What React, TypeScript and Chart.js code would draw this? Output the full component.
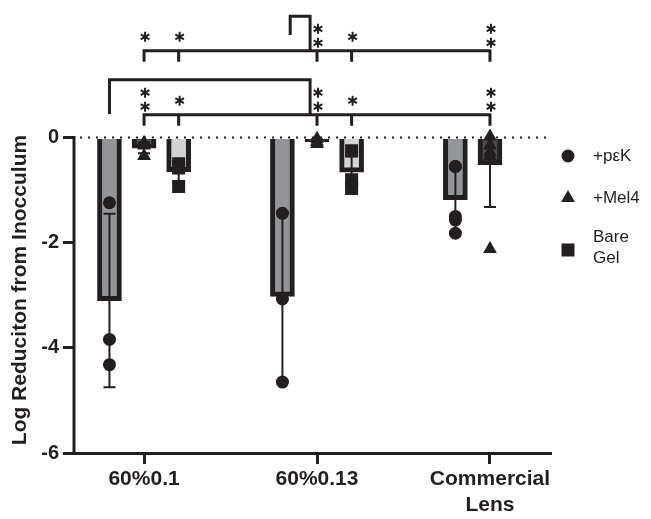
import React, { useEffect, useRef } from 'react';
import { Chart, registerables } from 'chart.js';

Chart.register(...registerables);

// ---- data ----
const categories: (string | string[])[] = ['60%0.1', '60%0.13', ['Commercial', 'Lens']];
const seriesNames = ['+pεK', '+Mel4', 'Bare Gel'];
const pekMeans = [-3.1, -3.02, -1.18];
const mel4Means = [-0.2, -0.08, -0.52];
const bareMeans: (number | null)[] = [-0.65, -0.66, null];
const pekSD = [1.65, 1.6, 0.6];
const mel4SD = [0.1, 0.05, 0.8];
const bareSD: (number | null)[] = [0.2, 0.3, null];
const pekPoints = [
  [-1.24, -3.84, -4.32],
  [-1.44, -3.07, -4.65],
  [-0.55, -0.55, -1.5, -1.57, -1.82],
];
const mel4Points = [
  [-0.1, -0.15, -0.35],
  [-0.02, -0.08, -0.12],
  [0.02, -0.15, -0.28, -0.35, -2.12],
];
const barePoints = [
  [-0.5, -0.58, -0.93],
  [-0.25, -0.8, -0.97],
  [],
];
const yTicks = [0, -2, -4, -6];
const yTitle = 'Log Reduciton from Inocculum';
// significance rows: stars count at (group, series)
const sigTargets = [
  [0, 1], [0, 2], [1, 1], [1, 2], [2, 1],
];
const sigLowerStars = [2, 1, 2, 1, 2];
const sigUpperStars = [1, 1, 2, 1, 2];

// ---- styling / layout ----
const INK = '#231f20';
const FONT = "'Liberation Sans', Arial, Helvetica, sans-serif";
const seriesOffset = [-0.2, 0, 0.2];
const barFill = ['#939598', '#4d4d4f', '#d1d3d4'];
const pointStyles = ['circle', 'triangle', 'rect'];
const pointRadii = [6.5, 8, 9.2];

const means = [pekMeans, mel4Means, bareMeans];
const sds = [pekSD, mel4SD, bareSD];
const pts = [pekPoints, mel4Points, barePoints];

function drawMarker(ctx: CanvasRenderingContext2D, style: string, x: number, y: number, r: number) {
  ctx.beginPath();
  if (style === 'circle') {
    ctx.arc(x, y, r, 0, Math.PI * 2);
  } else if (style === 'triangle') {
    let rad = 0;
    ctx.moveTo(x + Math.sin(rad) * r, y - Math.cos(rad) * r);
    rad += (2 * Math.PI) / 3;
    ctx.lineTo(x + Math.sin(rad) * r, y - Math.cos(rad) * r);
    rad += (2 * Math.PI) / 3;
    ctx.lineTo(x + Math.sin(rad) * r, y - Math.cos(rad) * r);
    ctx.closePath();
  } else {
    const s = Math.SQRT1_2 * r;
    ctx.rect(x - s, y - s, 2 * s, 2 * s);
  }
  ctx.fill();
}

function drawStar(ctx: CanvasRenderingContext2D, x: number, y: number) {
  const r = 5;
  ctx.beginPath();
  for (const a of [90, 30, 150]) {
    const t = (a * Math.PI) / 180;
    ctx.moveTo(x - Math.cos(t) * r, y - Math.sin(t) * r);
    ctx.lineTo(x + Math.cos(t) * r, y + Math.sin(t) * r);
  }
  ctx.stroke();
}

const overlayPlugin = {
  id: 'overlay',
  beforeDatasetsDraw(chart: any) {
    const { ctx, chartArea, scales } = chart;
    const y0 = scales.y.getPixelForValue(0);
    ctx.save();
    // dotted zero line
    ctx.strokeStyle = INK;
    ctx.lineWidth = 2;
    ctx.setLineDash([2, 6]);
    ctx.beginPath();
    ctx.moveTo(chartArea.left + 6, y0);
    ctx.lineTo(chartArea.right, y0);
    ctx.stroke();
    ctx.setLineDash([]);
    // y axis line from 0 to -6
    ctx.lineWidth = 3;
    ctx.beginPath();
    ctx.moveTo(chartArea.left, y0 - 1.5);
    ctx.lineTo(chartArea.left, scales.y.getPixelForValue(-6));
    ctx.stroke();
    ctx.restore();
  },
  afterDatasetDraw(chart: any, args: any) {
    const s = args.index;
    if (s > 2) return;
    const { ctx, scales } = chart;
    ctx.save();
    ctx.strokeStyle = INK;
    ctx.lineWidth = 2;
    means[s].forEach((m, i) => {
      const sd = sds[s][i];
      if (m == null || sd == null) return;
      const x = scales.x.getPixelForValue(i + seriesOffset[s]);
      const lo = scales.y.getPixelForValue(m - sd);
      const hiVal = Math.min(m + sd, 0);
      const hi = scales.y.getPixelForValue(hiVal);
      ctx.beginPath();
      ctx.moveTo(x, hi);
      ctx.lineTo(x, lo);
      ctx.moveTo(x - 6, lo);
      ctx.lineTo(x + 6, lo);
      if (m + sd < 0) {
        ctx.moveTo(x - 6, hi);
        ctx.lineTo(x + 6, hi);
      }
      ctx.stroke();
    });
    ctx.restore();
  },
  afterDraw(chart: any) {
    const { ctx, scales } = chart;
    const X = (v: number) => scales.x.getPixelForValue(v);
    const Y = (v: number) => scales.y.getPixelForValue(v);
    ctx.save();
    ctx.strokeStyle = INK;
    ctx.fillStyle = INK;
    ctx.lineWidth = 3;
    ctx.lineCap = 'butt';

    const rows = [
      { y: 0.435, stars: sigLowerStars },
      { y: 1.65, stars: sigUpperStars },
    ];
    const targetsX = sigTargets.map(([g, s]) => X(g + seriesOffset[s]));
    rows.forEach((row) => {
      const yl = Y(row.y);
      ctx.lineWidth = 3;
      ctx.beginPath();
      ctx.moveTo(targetsX[0] - 1.5, yl);
      ctx.lineTo(targetsX[targetsX.length - 1] + 1.5, yl);
      targetsX.forEach((x) => {
        ctx.moveTo(x, yl);
        ctx.lineTo(x, yl + 11);
      });
      ctx.stroke();
      ctx.lineWidth = 2;
      targetsX.forEach((x, k) => {
        if (row.stars[k] === 1) {
          drawStar(ctx, x + 1, yl - 14);
        } else {
          drawStar(ctx, x + 1, yl - 22);
          drawStar(ctx, x + 1, yl - 8);
        }
      });
    });

    // big bracket
    ctx.lineWidth = 3;
    ctx.beginPath();
    ctx.moveTo(X(-0.2), Y(0.45));
    ctx.lineTo(X(-0.2), Y(1.1));
    ctx.lineTo(X(0.96), Y(1.1));
    ctx.lineTo(X(0.96), Y(0.435));
    ctx.stroke();
    // small top bracket
    ctx.beginPath();
    ctx.moveTo(X(0.845), Y(1.95));
    ctx.lineTo(X(0.845), Y(2.31));
    ctx.lineTo(X(0.96), Y(2.31));
    ctx.lineTo(X(0.96), Y(1.65));
    ctx.stroke();

    // y title
    ctx.save();
    ctx.font = `bold 21px ${FONT}`;
    ctx.textAlign = 'center';
    ctx.textBaseline = 'middle';
    ctx.translate(12, Y(-2.9));
    ctx.rotate(-Math.PI / 2);
    ctx.fillText(yTitle, 0, 0);
    ctx.restore();

    // legend
    const lx = 560;
    const markerY = [148, 190, 242];
    ctx.font = `17px ${FONT}`;
    ctx.textAlign = 'left';
    ctx.textBaseline = 'middle';
    seriesNames.forEach((name, s) => {
      drawMarker(ctx, pointStyles[s], lx, markerY[s], pointRadii[s]);
      if (name === 'Bare Gel') {
        ctx.fillText('Bare', 585, 229.5);
        ctx.fillText('Gel', 585, 250.5);
      } else {
        ctx.fillText(name, 585, markerY[s]);
      }
    });
    ctx.restore();
  },
};

export default function App() {
  const ref = useRef<HTMLCanvasElement | null>(null);
  useEffect(() => {
    if (!ref.current) return;
    const barSets = means.map((arr, s) => ({
      type: 'bar' as const,
      label: seriesNames[s],
      data: arr
        .map((m, i) => (m == null ? null : { x: i + seriesOffset[s], y: m }))
        .filter((d) => d !== null),
      backgroundColor: barFill[s],
      borderColor: INK,
      borderWidth: 5,
      borderSkipped: 'start' as const,
      barThickness: 24,
      grouped: false,
      order: 2,
    }));
    const pointSets = pts.map((groups, s) => ({
      type: 'scatter' as const,
      label: seriesNames[s] + ' pts',
      data: groups.flatMap((g, i) => g.map((v) => ({ x: i + seriesOffset[s], y: v }))),
      pointStyle: pointStyles[s],
      pointRadius: pointRadii[s],
      pointBackgroundColor: INK,
      pointBorderColor: INK,
      pointBorderWidth: 0,
      showLine: false,
      order: 0,
    }));
    const chart = new Chart(ref.current, {
      type: 'bar',
      data: { datasets: [...barSets, ...pointSets] as any },
      options: {
        animation: false,
        responsive: true,
        maintainAspectRatio: false,
        layout: { padding: { top: 0, right: 93, left: 0, bottom: 0 } },
        plugins: { legend: { display: false }, tooltip: { enabled: false } },
        scales: {
          x: {
            type: 'linear',
            min: -0.405,
            max: 2.347,
            offset: false,
            afterBuildTicks: (s: any) => {
              s.ticks = categories.map((_, i) => ({ value: i }));
            },
            afterFit: (s: any) => {
              s.height = 58;
              s.paddingLeft = 0;
              s.paddingRight = 0;
            },
            ticks: {
              autoSkip: false,
              maxRotation: 0,
              padding: 3,
              color: INK,
              font: { family: FONT, size: 21, weight: 'bold' },
              callback: (v: any) => categories[Number(v)] as any,
            },
            grid: {
              offset: false,
              drawOnChartArea: false,
              drawTicks: true,
              tickLength: 11,
              lineWidth: 3,
              color: INK,
            },
            border: { display: true, width: 3, color: INK },
          },
          y: {
            type: 'linear',
            min: -6,
            max: 2.29,
            afterBuildTicks: (s: any) => {
              s.ticks = yTicks.map((v) => ({ value: v }));
            },
            afterFit: (s: any) => {
              s.width = 66;
              s.paddingTop = 0;
              s.paddingBottom = 0;
            },
            ticks: {
              padding: 4,
              color: INK,
              font: { family: FONT, size: 20, weight: 'bold' },
              callback: (v: any) => String(v),
            },
            grid: {
              offset: false,
              drawOnChartArea: false,
              drawTicks: true,
              tickLength: 11,
              lineWidth: 3,
              color: INK,
            },
            border: { display: false },
          },
        },
      } as any,
      plugins: [overlayPlugin],
    });
    return () => chart.destroy();
  }, []);
  return (
    <div style={{ position: 'relative', width: 635, height: 503 }}>
      <canvas ref={ref} />
    </div>
  );
}
